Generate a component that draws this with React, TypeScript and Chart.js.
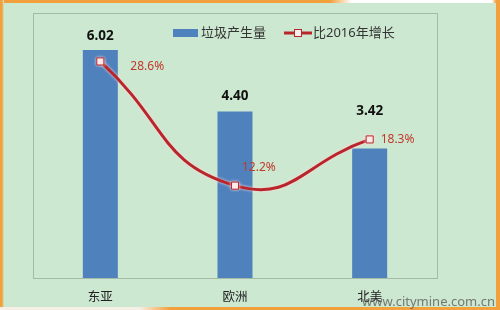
import React, { useEffect, useRef } from "react";
import { Chart, registerables } from "chart.js";

Chart.register(...registerables);

const categories = ["东亚", "欧洲", "北美"];
const wasteAmount = [6.02, 4.4, 3.42];
const growthPct = [28.6, 12.2, 18.3];
const barSeriesName = "垃圾产生量";
const lineSeriesName = "比2016年增长";
const watermark = "www.citymine.com.cn";

const FONT = '"Noto Sans", "Noto Sans CJK SC", sans-serif';
const BAR_COLOR = "#4f81bd";
const LINE_COLOR = "#b8262b";
const LABEL_RED = "#c0392b";
const BG = "#cde8d1";

// label placement (styling only)
const barLabelDy = [-14, -15, -37];
const lineLabelOffset: [number, number][] = [
  [30, 5],
  [7, -18],
  [11, 0.5],
];

const decorPlugin = {
  id: "decor",
  beforeDatasetsDraw(chart: any) {
    const { ctx, chartArea } = chart;
    ctx.save();
    ctx.strokeStyle = "#a2baa6";
    ctx.lineWidth = 1;
    ctx.strokeRect(
      Math.round(chartArea.left) + 0.5,
      Math.round(chartArea.top) + 0.5,
      Math.round(chartArea.right - chartArea.left),
      Math.round(chartArea.bottom - chartArea.top)
    );
    ctx.restore();
  },
  beforeDatasetDraw(chart: any, args: any) {
    if (args.index === 1) {
      const ctx = chart.ctx;
      ctx.save();
      ctx.shadowColor = "rgba(255,215,215,1)";
      ctx.shadowBlur = 3;
    }
  },
  afterDatasetDraw(chart: any, args: any) {
    if (args.index === 1) chart.ctx.restore();
  },
  afterDraw(chart: any) {
    const { ctx } = chart;
    const barMeta = chart.getDatasetMeta(0);
    const lineMeta = chart.getDatasetMeta(1);
    ctx.save();
    // bar value labels
    ctx.font = `bold 13.5px ${FONT}`;
    ctx.fillStyle = "#111";
    ctx.textAlign = "center";
    ctx.textBaseline = "middle";
    barMeta.data.forEach((el: any, i: number) => {
      ctx.fillText(wasteAmount[i].toFixed(2), el.x, el.y + barLabelDy[i]);
    });
    // line labels
    ctx.font = `12px ${FONT}`;
    ctx.fillStyle = LABEL_RED;
    ctx.textAlign = "left";
    lineMeta.data.forEach((el: any, i: number) => {
      const [dx, dy] = lineLabelOffset[i];
      ctx.fillText(growthPct[i].toFixed(1) + "%", el.x + dx, el.y + dy);
    });
    // legend
    const ly = 33;
    ctx.fillStyle = BAR_COLOR;
    ctx.fillRect(173, 29, 25, 8);
    ctx.font = `13px ${FONT}`;
    ctx.fillStyle = "#333";
    ctx.textAlign = "left";
    ctx.fillText(barSeriesName, 201, ly);
    ctx.strokeStyle = LINE_COLOR;
    ctx.lineWidth = 3;
    ctx.beginPath();
    ctx.moveTo(284, ly);
    ctx.lineTo(312, ly);
    ctx.stroke();
    ctx.fillStyle = "#fbeeee";
    ctx.fillRect(294.5, ly - 3.5, 7, 7);
    ctx.lineWidth = 1;
    ctx.strokeRect(294.5, ly - 3.5, 7, 7);
    ctx.fillStyle = "#333";
    ctx.fillText(lineSeriesName, 313, ly);
    ctx.restore();
  },
};

export default function App() {
  const ref = useRef<HTMLCanvasElement | null>(null);

  useEffect(() => {
    document.body.style.margin = "0";
    const chart = new Chart(ref.current as HTMLCanvasElement, {
      type: "bar",
      data: {
        labels: categories,
        datasets: [
          {
            type: "bar",
            label: barSeriesName,
            data: wasteAmount,
            backgroundColor: BAR_COLOR,
            borderWidth: 0,
            barPercentage: 0.26,
            categoryPercentage: 1,
            yAxisID: "y",
            order: 2,
          },
          {
            type: "line",
            label: lineSeriesName,
            data: growthPct,
            borderColor: LINE_COLOR,
            borderWidth: 3,
            tension: 0.5,
            pointStyle: "rect",
            pointRadius: 5,
            pointBorderWidth: 1,
            pointBorderColor: LINE_COLOR,
            pointBackgroundColor: "#fbeeee",
            yAxisID: "y2",
            order: 1,
          } as any,
        ],
      },
      options: {
        animation: false,
        responsive: false,
        events: [],
        layout: { padding: { left: 33, right: 63, top: 13, bottom: 0 } },
        plugins: { legend: { display: false }, tooltip: { enabled: false } },
        scales: {
          x: {
            grid: { display: false, drawTicks: false },
            border: { display: false },
            ticks: { padding: 12, color: "#222", font: { family: FONT, size: 12.5 } },
            afterFit: (s: any) => {
              s.height = 32;
            },
          },
          y: { display: false, min: 0, max: 7 },
          y2: { display: false, min: 0, max: 35, position: "right" },
        },
      } as any,
      plugins: [decorPlugin],
    });
    return () => chart.destroy();
  }, []);

  const orange = "#f2a03c";
  return (
    <div
      style={{
        position: "fixed",
        left: 0,
        top: 0,
        width: 500,
        height: 310,
        background: BG,
        overflow: "hidden",
      }}
    >
      <canvas ref={ref} width={500} height={310} style={{ position: "absolute", left: 0, top: 0 }} />
      {/* frame */}
      <div style={{ position: "absolute", left: 0, top: 0, width: 500, height: 3, background: `linear-gradient(to right, ${orange} 0px, ${orange} 330px, #ffffff 352px, #ffffff 492px, ${orange} 496px)` }} />
      <div style={{ position: "absolute", left: 0, top: 0, width: 4, height: 310, background: `linear-gradient(to right, ${orange}, ${orange} 2px, ${BG})` }} />
      <div style={{ position: "absolute", right: 0, top: 0, width: 4, height: 310, background: orange }} />
      <div style={{ position: "absolute", left: 0, bottom: 0, width: 500, height: 3, background: `linear-gradient(to right, #f6efe6 0px, #f6efe6 140px, ${orange} 170px)` }} />
      <div
        style={{
          position: "absolute",
          right: 5,
          top: 293,
          fontFamily: FONT,
          fontSize: 13,
          lineHeight: "17px",
          color: "rgba(100,100,100,0.85)",
          whiteSpace: "nowrap",
        }}
      >
        {watermark}
      </div>
    </div>
  );
}
